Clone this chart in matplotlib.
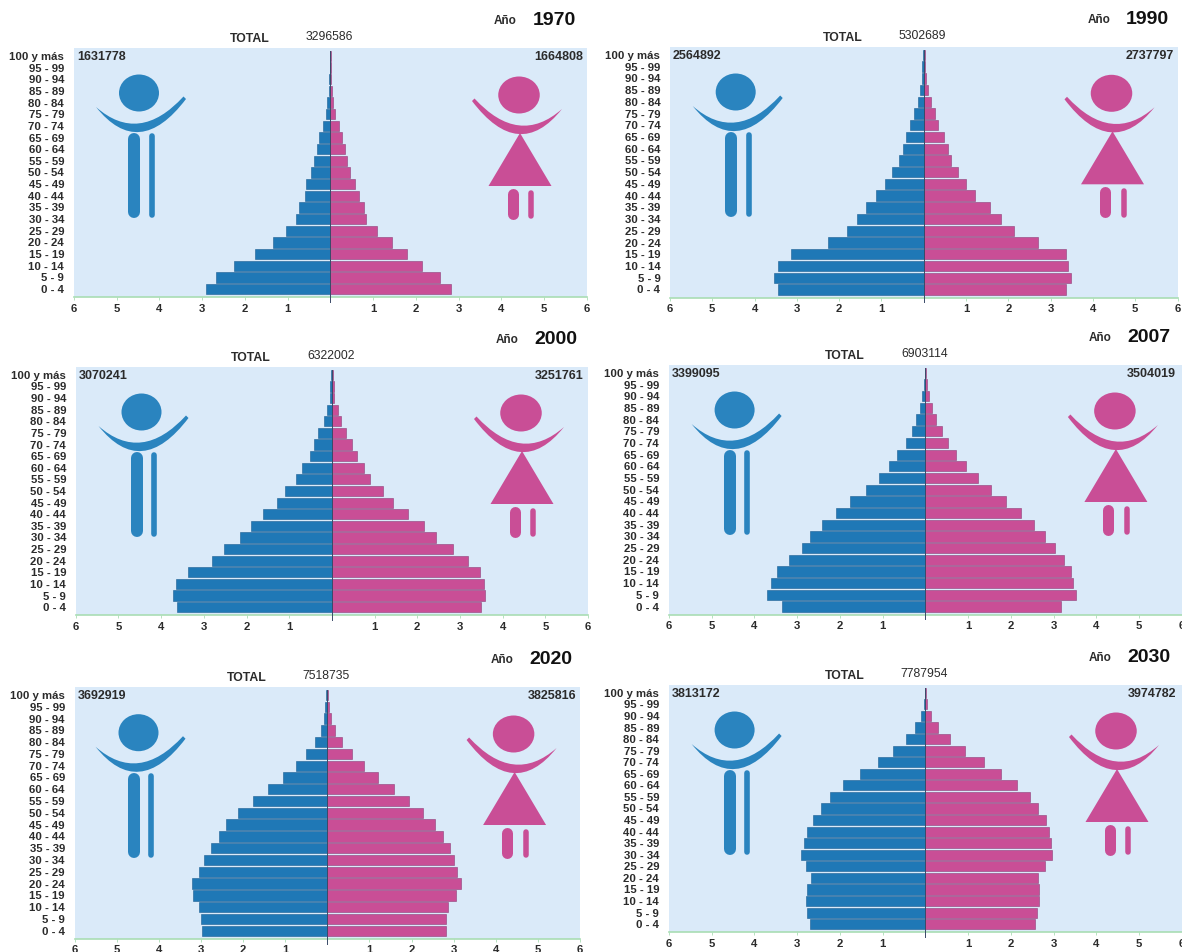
import matplotlib
matplotlib.use("Agg")
import matplotlib.pyplot as plt
from matplotlib.patches import Ellipse, PathPatch, Polygon
from matplotlib.path import Path

plt.rcParams["font.family"] = ["Liberation Sans", "DejaVu Sans"]

W, H = 1182, 952
BLUE = "#1F78B6"
ICON_BLUE = "#2A84BF"
PINK = "#C94E96"
PANEL_BG = "#DAEAF9"
AXIS_GREEN = "#A9DDB4"
TEXT = "#2B2B2B"

ages = ["0 - 4", "5 - 9", "10 - 14", "15 - 19", "20 - 24", "25 - 29", "30 - 34",
        "35 - 39", "40 - 44", "45 - 49", "50 - 54", "55 - 59", "60 - 64", "65 - 69",
        "70 - 74", "75 - 79", "80 - 84", "85 - 89", "90 - 94", "95 - 99", "100 y más"]

male_1970 = [2.91, 2.68, 2.25, 1.76, 1.35, 1.03, .81, .74, .60, .57, .45, .39, .32, .26, .18, .11, .07, .04, .03, .02, .01]
female_1970 = [2.81, 2.57, 2.15, 1.78, 1.45, 1.09, .83, .78, .66, .57, .46, .38, .33, .27, .19, .11, .07, .04, .02, .01, .01]
male_1990 = [3.44, 3.55, 3.45, 3.14, 2.26, 1.81, 1.58, 1.37, 1.13, .92, .74, .58, .50, .42, .32, .24, .14, .09, .04, .03, .02]
female_1990 = [3.36, 3.47, 3.42, 3.36, 2.71, 2.14, 1.83, 1.56, 1.22, 1.00, .81, .64, .58, .47, .34, .26, .18, .11, .06, .04, .02]
male_2000 = [3.63, 3.72, 3.65, 3.37, 2.81, 2.53, 2.15, 1.90, 1.62, 1.28, 1.10, .84, .69, .51, .41, .32, .19, .12, .05, .04, .02]
female_2000 = [3.50, 3.59, 3.56, 3.47, 3.18, 2.84, 2.45, 2.15, 1.79, 1.42, 1.19, .90, .76, .58, .46, .34, .22, .14, .06, .04, .02]
male_2007 = [3.36, 3.71, 3.62, 3.48, 3.20, 2.89, 2.69, 2.42, 2.10, 1.76, 1.40, 1.09, .86, .66, .46, .31, .21, .12, .07, .03, .02]
female_2007 = [3.17, 3.52, 3.46, 3.40, 3.25, 3.02, 2.80, 2.53, 2.23, 1.89, 1.53, 1.22, .95, .72, .53, .38, .25, .16, .08, .03, .02]
male_2020 = [2.98, 3.00, 3.05, 3.19, 3.22, 3.05, 2.93, 2.75, 2.56, 2.40, 2.11, 1.77, 1.40, 1.04, .75, .50, .30, .16, .08, .05, .02]
female_2020 = [2.82, 2.82, 2.86, 3.05, 3.17, 3.08, 3.02, 2.92, 2.75, 2.55, 2.28, 1.95, 1.58, 1.20, .87, .59, .35, .19, .09, .04, .01]
male_2030 = [2.70, 2.78, 2.80, 2.76, 2.67, 2.80, 2.90, 2.85, 2.78, 2.63, 2.43, 2.24, 1.92, 1.54, 1.12, .75, .46, .24, .11, .03, .02]
female_2030 = [2.57, 2.62, 2.66, 2.65, 2.64, 2.80, 2.96, 2.93, 2.90, 2.82, 2.64, 2.45, 2.15, 1.77, 1.36, .92, .57, .30, .12, .03, .01]

years = ["1970", "1990", "2000", "2007", "2020", "2030"]
totals = ["3296586", "5302689", "6322002", "6903114", "7518735", "7787954"]
male_totals = ["1631778", "2564892", "3070241", "3399095", "3692919", "3813172"]
female_totals = ["1664808", "2737797", "3251761", "3504019", "3825816", "3974782"]
male_series = [male_1970, male_1990, male_2000, male_2007, male_2020, male_2030]
female_series = [female_1970, female_1990, female_2000, female_2007, female_2020, female_2030]

# panel boxes in image pixels: left, right, top, bottom
boxes = [(73.8, 587, 47.7, 297.3), (670, 1177.5, 46.7, 297.7),
         (75.8, 588, 366.7, 615.3), (668.8, 1182, 364.7, 614.7),
         (74.6, 580, 686.7, 939), (668.8, 1182, 684.7, 932.3)]
# head centres of the two figures, in image pixels
male_heads = [(139, 93), (735.7, 92), (141.5, 412), (734.6, 410), (138.5, 732.7), (734.6, 730)]
female_heads = [(519, 95), (1111.5, 93.3), (521, 413), (1114.9, 411), (513.6, 734), (1116, 731)]


def crescent(ov, cx, cy, side, color):
    # side=1: blunt tip on the right (male), side=-1: blunt tip on the left (female)
    sharp = (cx - side * 43, cy + 14)
    blunt_low = (cx + side * 47, cy + 6)
    blunt_up = (cx + side * 44.5, cy + 3.5)
    verts = [sharp, (cx, cy + 68), blunt_low, blunt_up, (cx, cy + 52), sharp]
    codes = [Path.MOVETO, Path.CURVE3, Path.CURVE3, Path.LINETO, Path.CURVE3, Path.CURVE3]
    ov.add_patch(PathPatch(Path(verts, codes), fc=color, ec="none"))


def leg(ov, x0, x1, y0, y1, color):
    r = (x1 - x0) / 2
    ov.plot([(x0 + x1) / 2] * 2, [y0 + r, y1 - r], color=color, lw=(x1 - x0) * 0.72,
            solid_capstyle="round")


def draw_male(ov, cx, cy):
    ov.add_patch(Ellipse((cx, cy), 40, 37, fc=ICON_BLUE, ec="none"))
    crescent(ov, cx, cy, 1, ICON_BLUE)
    leg(ov, cx - 11, cx + 1, cy + 40, cy + 125, ICON_BLUE)
    leg(ov, cx + 10, cx + 15.6, cy + 40, cy + 125, ICON_BLUE)


def draw_female(ov, cx, cy):
    ov.add_patch(Ellipse((cx, cy), 41.5, 37, fc=PINK, ec="none"))
    crescent(ov, cx, cy, -1, PINK)
    ov.add_patch(Polygon([(cx + 1, cy + 38), (cx - 30.5, cy + 91), (cx + 32.5, cy + 91)],
                         fc=PINK, ec="none"))
    leg(ov, cx - 12, cx - 1, cy + 93, cy + 124, PINK)
    leg(ov, cx + 9.5, cx + 15, cy + 95, cy + 124, PINK)


fig = plt.figure(figsize=(W / 100, H / 100), dpi=100, facecolor="white")
ticks = [-6, -5, -4, -3, -2, -1, 0, 1, 2, 3, 4, 5, 6]
tick_labels = ["6", "5", "4", "3", "2", "1", "", "1", "2", "3", "4", "5", "6"]

for i, year in enumerate(years):
    left, right, top, bottom = boxes[i]
    ax = fig.add_axes([left / W, 1 - bottom / H, (right - left) / W, (bottom - top) / H])
    ax.set_facecolor(PANEL_BG)
    pos = list(range(len(ages)))
    ax.barh(pos, [-v for v in male_series[i]], height=0.88, color=BLUE, edgecolor="#1B5F92", linewidth=0.4)
    ax.barh(pos, female_series[i], height=0.88, color=PINK, edgecolor="#8E3F78", linewidth=0.4)
    ax.axvline(0, ymin=-0.018, ymax=0.985, color="#3A4A68", lw=0.7, clip_on=False, zorder=5)
    ax.set_xlim(-6, 6)
    ax.set_ylim(-0.7, 20.7)
    ax.set_yticks(pos)
    ax.set_yticklabels(ages, fontsize=8.2, fontweight="bold", color=TEXT)
    ax.set_xticks(ticks)
    ax.set_xticklabels(tick_labels, fontsize=8.2, fontweight="bold", color=TEXT)
    ax.tick_params(axis="y", length=0, pad=7)
    ax.tick_params(axis="x", length=2, width=0.6, color=AXIS_GREEN, pad=2.5)
    for side in ["top", "left", "right"]:
        ax.spines[side].set_visible(False)
    ax.spines["bottom"].set_color(AXIS_GREEN)
    ax.spines["bottom"].set_linewidth(1.2)

    mid = (left + right) / 2
    fig.text((mid - 81) / W, 1 - (top - 9) / H, "TOTAL", fontsize=8.8, fontweight="bold",
             color=TEXT, ha="center", va="center")
    fig.text((mid - 1) / W, 1 - (top - 11) / H, totals[i], fontsize=8.8, color=TEXT,
             ha="center", va="center")
    fig.text((mid + 175) / W, 1 - (top - 26.5) / H, "Año", fontsize=8.5, fontweight="bold",
             color=TEXT, ha="center", va="center")
    fig.text((mid + 224) / W, 1 - (top - 27.5) / H, year, fontsize=14, fontweight="bold",
             color="#111111", ha="center", va="center")
    fig.text((left + 3) / W, 1 - (top + 9.5) / H, male_totals[i], fontsize=9, fontweight="bold",
             color=TEXT, ha="left", va="center")
    fig.text((min(right, 1180) - 4) / W, 1 - (top + 9.5) / H, female_totals[i], fontsize=9,
             fontweight="bold", color=TEXT, ha="right", va="center")

# overlay in image pixels for the two pictograms
ov = fig.add_axes([0, 0, 1, 1], facecolor="none")
ov.set_xlim(0, W)
ov.set_ylim(H, 0)
ov.axis("off")
for (mx, my), (fx, fy) in zip(male_heads, female_heads):
    draw_male(ov, mx, my)
    draw_female(ov, fx, fy)

fig.savefig("out.png", dpi=100)
